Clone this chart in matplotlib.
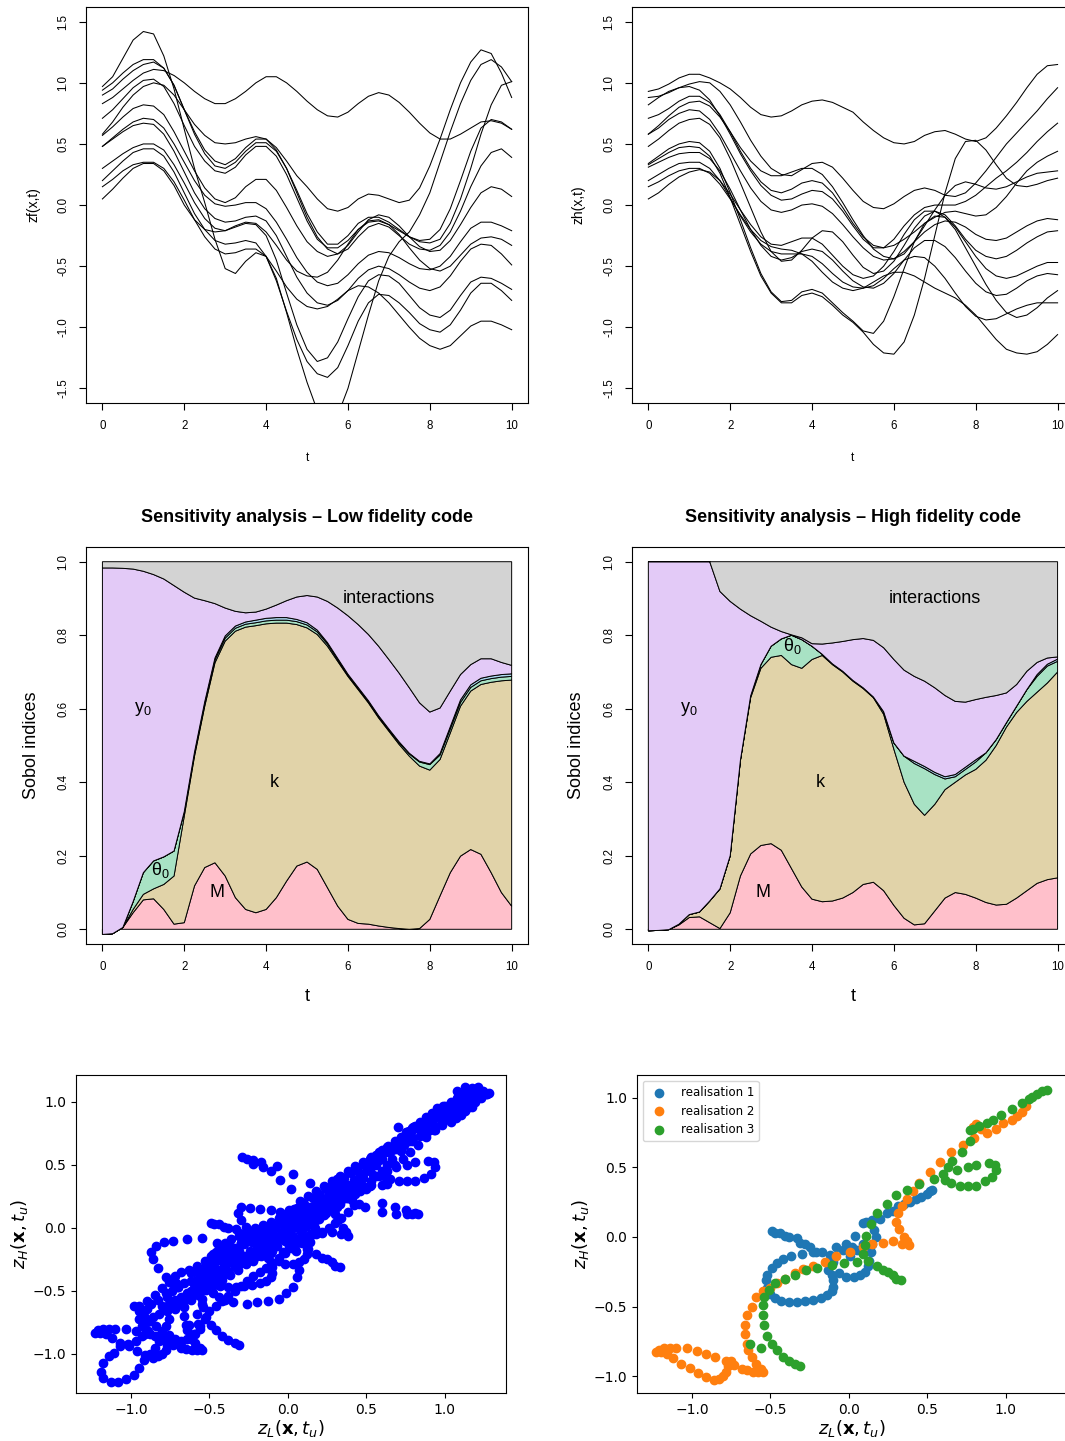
import numpy as np
import matplotlib.pyplot as plt

plt.rcParams['font.family'] = ['Liberation Sans', 'DejaVu Sans']
plt.rcParams['mathtext.fontset'] = 'custom'
plt.rcParams['mathtext.rm'] = 'Liberation Sans'
plt.rcParams['mathtext.it'] = 'Liberation Sans:italic'
plt.rcParams['mathtext.bf'] = 'Liberation Sans:bold'

# ---------------------------------------------------------------- realisations, t = 0, 0.25, ..., 10
t_curve = np.linspace(0, 10, 41)

zf_curves = [
    [0.83, 0.88, 0.95, 1.02, 1.08, 1.11, 1.10, 1.06, 1.00, 0.93, 0.87, 0.83, 0.83, 0.87, 0.93, 1.00, 1.05, 1.05, 1.00, 0.93,
     0.85, 0.78, 0.73, 0.72, 0.76, 0.83, 0.89, 0.92, 0.90, 0.84, 0.76, 0.67, 0.59, 0.54, 0.54, 0.58, 0.63, 0.68, 0.69, 0.67, 0.62],
    [0.97, 1.05, 1.20, 1.35, 1.42, 1.40, 1.22, 0.95, 0.62, 0.30, 0.02, -0.28, -0.52, -0.56, -0.46, -0.39, -0.42, -0.60, -0.88, -1.18,
     -1.45, -1.68, -1.80, -1.72, -1.50, -1.20, -0.90, -0.62, -0.42, -0.30, -0.22, -0.08, 0.10, 0.35, 0.60, 0.83, 1.02, 1.15, 1.19, 1.13, 1.01],
    [0.94, 1.00, 1.08, 1.15, 1.19, 1.19, 1.12, 0.98, 0.78, 0.60, 0.45, 0.36, 0.33, 0.38, 0.47, 0.54, 0.54, 0.47, 0.36, 0.24,
     0.15, 0.05, -0.03, -0.05, -0.02, 0.05, 0.09, 0.08, 0.05, 0.02, 0.04, 0.14, 0.32, 0.54, 0.78, 1.00, 1.17, 1.27, 1.24, 1.08, 0.88],
    [0.90, 0.95, 1.03, 1.10, 1.15, 1.17, 1.12, 0.98, 0.78, 0.58, 0.42, 0.32, 0.30, 0.35, 0.44, 0.51, 0.51, 0.44, 0.30, 0.12,
     -0.07, -0.22, -0.32, -0.32, -0.25, -0.15, -0.10, -0.10, -0.14, -0.20, -0.26, -0.30, -0.31, -0.28, -0.15, 0.05, 0.30, 0.58, 0.82, 0.98, 1.01],
    [0.71, 0.78, 0.87, 0.96, 1.02, 1.03, 0.97, 0.83, 0.65, 0.48, 0.36, 0.28, 0.26, 0.31, 0.41, 0.48, 0.48, 0.40, 0.25, 0.06,
     -0.13, -0.28, -0.35, -0.35, -0.29, -0.20, -0.14, -0.13, -0.16, -0.21, -0.26, -0.29, -0.28, -0.20, -0.03, 0.20, 0.44, 0.63, 0.70, 0.68, 0.62],
    [0.58, 0.68, 0.80, 0.90, 0.97, 1.00, 0.98, 0.90, 0.78, 0.66, 0.57, 0.51, 0.50, 0.51, 0.54, 0.56, 0.54, 0.45, 0.30, 0.10,
     -0.10, -0.26, -0.36, -0.40, -0.36, -0.26, -0.18, -0.15, -0.18, -0.25, -0.32, -0.36, -0.37, -0.33, -0.22, -0.05, 0.15, 0.32, 0.43, 0.46, 0.39],
    [0.57, 0.64, 0.72, 0.79, 0.82, 0.81, 0.74, 0.60, 0.44, 0.28, 0.14, 0.05, 0.02, 0.06, 0.15, 0.21, 0.21, 0.12, -0.02, -0.17,
     -0.30, -0.38, -0.42, -0.40, -0.33, -0.22, -0.12, -0.08, -0.10, -0.17, -0.26, -0.34, -0.38, -0.37, -0.29, -0.16, -0.02, 0.10, 0.15, 0.13, 0.07],
    [0.48, 0.55, 0.62, 0.68, 0.71, 0.70, 0.63, 0.50, 0.35, 0.20, 0.08, 0.01, -0.01, 0.00, 0.02, 0.02, -0.03, -0.14, -0.28, -0.43,
     -0.55, -0.63, -0.66, -0.64, -0.57, -0.48, -0.41, -0.38, -0.39, -0.43, -0.48, -0.52, -0.53, -0.50, -0.42, -0.30, -0.19, -0.14, -0.14, -0.17, -0.21],
    [0.48, 0.54, 0.60, 0.65, 0.67, 0.66, 0.58, 0.44, 0.27, 0.10, -0.03, -0.11, -0.14, -0.13, -0.10, -0.09, -0.13, -0.25, -0.42, -0.59,
     -0.72, -0.80, -0.82, -0.78, -0.70, -0.60, -0.53, -0.50, -0.52, -0.57, -0.63, -0.68, -0.70, -0.67, -0.58, -0.46, -0.36, -0.32, -0.33, -0.40, -0.49],
    [0.30, 0.36, 0.42, 0.47, 0.50, 0.50, 0.45, 0.33, 0.18, 0.02, -0.11, -0.19, -0.21, -0.18, -0.15, -0.16, -0.25, -0.45, -0.72, -0.98,
     -1.18, -1.28, -1.25, -1.12, -0.93, -0.75, -0.62, -0.57, -0.58, -0.64, -0.74, -0.84, -0.90, -0.92, -0.86, -0.74, -0.63, -0.59, -0.60, -0.64, -0.69],
    [0.20, 0.28, 0.36, 0.43, 0.46, 0.46, 0.40, 0.27, 0.10, -0.07, -0.20, -0.29, -0.32, -0.31, -0.29, -0.31, -0.42, -0.62, -0.87, -1.10,
     -1.28, -1.38, -1.41, -1.33, -1.15, -0.95, -0.80, -0.73, -0.74, -0.80, -0.88, -0.97, -1.02, -1.04, -0.98, -0.86, -0.72, -0.64, -0.64, -0.70, -0.78],
    [0.15, 0.21, 0.28, 0.33, 0.35, 0.35, 0.30, 0.19, 0.04, -0.12, -0.26, -0.36, -0.40, -0.39, -0.36, -0.36, -0.42, -0.54, -0.67, -0.77,
     -0.83, -0.85, -0.83, -0.77, -0.70, -0.66, -0.67, -0.72, -0.80, -0.90, -1.00, -1.09, -1.15, -1.18, -1.15, -1.07, -0.99, -0.95, -0.95, -0.98, -1.02],
    [0.05, 0.13, 0.22, 0.30, 0.34, 0.34, 0.28, 0.16, 0.00, -0.12, -0.20, -0.22, -0.21, -0.17, -0.14, -0.15, -0.22, -0.33, -0.45, -0.54,
     -0.58, -0.59, -0.55, -0.45, -0.32, -0.20, -0.13, -0.12, -0.16, -0.24, -0.35, -0.45, -0.52, -0.54, -0.50, -0.41, -0.32, -0.27, -0.26, -0.28, -0.33],
]

zh_curves = [
    [0.93, 0.95, 0.99, 1.04, 1.07, 1.07, 1.04, 1.00, 0.95, 0.88, 0.80, 0.74, 0.72, 0.73, 0.77, 0.82, 0.85, 0.86, 0.84, 0.80,
     0.76, 0.68, 0.61, 0.55, 0.51, 0.50, 0.52, 0.57, 0.60, 0.61, 0.58, 0.54, 0.52, 0.55, 0.63, 0.73, 0.84, 0.96, 1.07, 1.14, 1.15],
    [0.88, 0.89, 0.92, 0.96, 0.99, 1.01, 1.00, 0.93, 0.82, 0.68, 0.53, 0.40, 0.30, 0.25, 0.24, 0.29, 0.34, 0.35, 0.31, 0.22,
     0.12, 0.03, -0.02, -0.03, 0.01, 0.07, 0.12, 0.14, 0.12, 0.08, 0.07, 0.10, 0.18, 0.28, 0.39, 0.50, 0.59, 0.68, 0.77, 0.87, 0.96],
    [0.82, 0.88, 0.93, 0.96, 0.97, 0.94, 0.86, 0.73, 0.58, 0.42, 0.28, 0.16, 0.08, 0.04, 0.05, 0.09, 0.12, 0.11, 0.05, -0.05,
     -0.17, -0.28, -0.35, -0.35, -0.28, -0.17, -0.08, -0.02, 0.00, 0.00, 0.00, 0.03, 0.08, 0.15, 0.22, 0.28, 0.35, 0.43, 0.52, 0.60, 0.67],
    [0.71, 0.74, 0.79, 0.85, 0.89, 0.89, 0.84, 0.74, 0.60, 0.44, 0.30, 0.19, 0.12, 0.10, 0.13, 0.18, 0.20, 0.18, 0.10, -0.02,
     -0.15, -0.26, -0.33, -0.35, -0.33, -0.28, -0.22, -0.15, -0.10, -0.06, -0.05, -0.07, -0.09, -0.08, -0.02, 0.07, 0.18, 0.28, 0.35, 0.40, 0.44],
    [0.58, 0.65, 0.73, 0.80, 0.84, 0.85, 0.81, 0.72, 0.60, 0.47, 0.36, 0.28, 0.24, 0.24, 0.27, 0.30, 0.30, 0.25, 0.15, 0.02,
     -0.12, -0.25, -0.36, -0.42, -0.44, -0.40, -0.30, -0.17, -0.04, 0.08, 0.16, 0.19, 0.17, 0.14, 0.13, 0.15, 0.19, 0.23, 0.26, 0.27, 0.28],
    [0.58, 0.63, 0.70, 0.75, 0.78, 0.77, 0.70, 0.58, 0.43, 0.28, 0.14, 0.03, -0.04, -0.06, -0.04, 0.00, 0.01, -0.01, -0.07, -0.16,
     -0.26, -0.35, -0.42, -0.45, -0.44, -0.38, -0.30, -0.22, -0.16, -0.13, -0.14, -0.18, -0.24, -0.28, -0.29, -0.27, -0.22, -0.17, -0.13, -0.11, -0.12],
    [0.48, 0.54, 0.61, 0.67, 0.70, 0.71, 0.66, 0.55, 0.38, 0.18, -0.02, -0.22, -0.38, -0.46, -0.45, -0.37, -0.27, -0.21, -0.22, -0.30,
     -0.41, -0.51, -0.56, -0.54, -0.46, -0.33, -0.19, -0.09, -0.05, -0.08, -0.17, -0.28, -0.37, -0.42, -0.44, -0.42, -0.37, -0.31, -0.26, -0.22, -0.21],
    [0.34, 0.40, 0.46, 0.50, 0.52, 0.51, 0.44, 0.30, 0.10, -0.12, -0.35, -0.56, -0.71, -0.79, -0.78, -0.71, -0.69, -0.72, -0.80, -0.88,
     -0.95, -1.03, -1.05, -0.95, -0.75, -0.52, -0.30, -0.15, -0.09, -0.10, -0.18, -0.30, -0.42, -0.52, -0.58, -0.60, -0.58, -0.54, -0.50, -0.47, -0.47],
    [0.33, 0.38, 0.43, 0.47, 0.48, 0.47, 0.40, 0.26, 0.06, -0.16, -0.38, -0.58, -0.72, -0.80, -0.80, -0.74, -0.72, -0.75, -0.82, -0.90,
     -0.96, -1.04, -1.14, -1.21, -1.22, -1.12, -0.90, -0.60, -0.25, 0.10, 0.38, 0.52, 0.53, 0.45, 0.33, 0.22, 0.16, 0.15, 0.17, 0.20, 0.22],
    [0.31, 0.35, 0.39, 0.42, 0.43, 0.43, 0.38, 0.28, 0.13, -0.04, -0.20, -0.33, -0.42, -0.45, -0.43, -0.38, -0.36, -0.38, -0.45, -0.54,
     -0.62, -0.67, -0.68, -0.64, -0.56, -0.45, -0.35, -0.29, -0.29, -0.34, -0.43, -0.54, -0.64, -0.71, -0.74, -0.73, -0.68, -0.62, -0.58, -0.56, -0.57],
    [0.20, 0.25, 0.30, 0.34, 0.35, 0.35, 0.30, 0.20, 0.06, -0.09, -0.22, -0.32, -0.38, -0.40, -0.40, -0.40, -0.42, -0.48, -0.56, -0.63,
     -0.67, -0.68, -0.66, -0.60, -0.52, -0.45, -0.42, -0.43, -0.50, -0.60, -0.72, -0.83, -0.91, -0.94, -0.93, -0.89, -0.85, -0.82, -0.80, -0.80, -0.80],
    [0.15, 0.19, 0.24, 0.28, 0.30, 0.30, 0.26, 0.17, 0.05, -0.08, -0.20, -0.29, -0.34, -0.36, -0.37, -0.40, -0.46, -0.55, -0.63, -0.68,
     -0.70, -0.68, -0.63, -0.58, -0.55, -0.55, -0.58, -0.63, -0.68, -0.72, -0.76, -0.82, -0.90, -1.00, -1.10, -1.18, -1.21, -1.22, -1.20, -1.14, -1.06],
    [0.05, 0.10, 0.17, 0.23, 0.27, 0.29, 0.27, 0.20, 0.09, -0.04, -0.16, -0.26, -0.32, -0.33, -0.30, -0.27, -0.27, -0.32, -0.41, -0.50,
     -0.57, -0.60, -0.58, -0.50, -0.38, -0.24, -0.12, -0.05, -0.05, -0.10, -0.20, -0.35, -0.50, -0.65, -0.78, -0.88, -0.92, -0.90, -0.84, -0.76, -0.70],
]

# ---------------------------------------------------------------- sobol indices (cumulative tops)
t_sobol = np.linspace(0, 10, 41)

lf_m_top = [-0.014, -0.012, 0.005, 0.045, 0.080, 0.083, 0.054, 0.014, 0.018, 0.118, 0.168, 0.181, 0.145, 0.086,
            0.054, 0.045, 0.054, 0.086, 0.131, 0.172, 0.183, 0.163, 0.113, 0.063, 0.027, 0.016, 0.014, 0.009,
            0.005, 0.002, 0.000, 0.002, 0.027, 0.091, 0.154, 0.199, 0.217, 0.204, 0.154, 0.100, 0.063]
lf_k_top = [-0.014, -0.012, 0.005, 0.054, 0.095, 0.110, 0.122, 0.145, 0.308, 0.471, 0.607, 0.725, 0.784, 0.811,
            0.822, 0.826, 0.831, 0.833, 0.833, 0.829, 0.820, 0.802, 0.770, 0.729, 0.688, 0.652, 0.616, 0.575,
            0.539, 0.503, 0.471, 0.444, 0.433, 0.462, 0.534, 0.607, 0.648, 0.666, 0.672, 0.676, 0.678]
lf_th_top = [-0.014, -0.012, 0.005, 0.075, 0.154, 0.186, 0.197, 0.213, 0.320, 0.478, 0.614, 0.733, 0.792, 0.819,
             0.830, 0.834, 0.839, 0.841, 0.841, 0.837, 0.828, 0.809, 0.776, 0.734, 0.692, 0.656, 0.620, 0.579,
             0.543, 0.508, 0.477, 0.455, 0.448, 0.474, 0.545, 0.617, 0.658, 0.676, 0.682, 0.686, 0.688]
lf_b_top = [-0.014, -0.012, 0.005, 0.075, 0.154, 0.186, 0.197, 0.213, 0.320, 0.482, 0.619, 0.738, 0.798, 0.825,
            0.836, 0.841, 0.846, 0.848, 0.848, 0.843, 0.834, 0.814, 0.780, 0.737, 0.694, 0.658, 0.622, 0.581,
            0.545, 0.510, 0.479, 0.457, 0.450, 0.478, 0.551, 0.624, 0.665, 0.683, 0.689, 0.693, 0.695]
lf_y0_top = [0.983, 0.983, 0.982, 0.980, 0.974, 0.965, 0.953, 0.935, 0.917, 0.901, 0.894, 0.886, 0.874, 0.865,
             0.861, 0.863, 0.871, 0.882, 0.894, 0.904, 0.908, 0.904, 0.892, 0.874, 0.853, 0.829, 0.802, 0.770,
             0.734, 0.697, 0.657, 0.616, 0.591, 0.602, 0.648, 0.693, 0.720, 0.736, 0.736, 0.726, 0.718]

hf_m_top = [-0.004, -0.003, -0.001, 0.012, 0.032, 0.034, 0.018, 0.002, 0.045, 0.145, 0.205, 0.228, 0.233, 0.215,
            0.165, 0.115, 0.082, 0.075, 0.077, 0.085, 0.100, 0.122, 0.128, 0.105, 0.065, 0.030, 0.012, 0.015,
            0.050, 0.085, 0.100, 0.095, 0.085, 0.073, 0.066, 0.068, 0.085, 0.105, 0.125, 0.135, 0.140]
hf_k_top = [-0.004, -0.003, -0.001, 0.014, 0.040, 0.047, 0.077, 0.110, 0.200, 0.460, 0.630, 0.710, 0.740, 0.745,
            0.720, 0.710, 0.734, 0.745, 0.720, 0.700, 0.675, 0.655, 0.630, 0.585, 0.490, 0.400, 0.340, 0.310,
            0.340, 0.380, 0.400, 0.420, 0.435, 0.460, 0.500, 0.550, 0.590, 0.620, 0.645, 0.670, 0.700]
hf_th_top = [-0.004, -0.003, -0.001, 0.014, 0.040, 0.047, 0.077, 0.110, 0.200, 0.460, 0.635, 0.720, 0.770, 0.790,
             0.800, 0.788, 0.770, 0.748, 0.722, 0.702, 0.677, 0.657, 0.632, 0.592, 0.507, 0.471, 0.451, 0.437,
             0.421, 0.409, 0.415, 0.435, 0.455, 0.480, 0.516, 0.562, 0.607, 0.652, 0.688, 0.716, 0.729]
hf_b_top = [-0.004, -0.003, -0.001, 0.014, 0.040, 0.047, 0.077, 0.110, 0.200, 0.460, 0.635, 0.720, 0.770, 0.790,
            0.800, 0.788, 0.770, 0.748, 0.722, 0.702, 0.677, 0.657, 0.632, 0.592, 0.507, 0.471, 0.457, 0.443,
            0.427, 0.415, 0.421, 0.441, 0.461, 0.480, 0.516, 0.562, 0.607, 0.652, 0.693, 0.721, 0.735]
hf_y0_top = [1.0, 1.0, 1.0, 1.0, 1.0, 1.0, 1.0, 0.919, 0.892, 0.871, 0.853, 0.838, 0.822, 0.810,
             0.801, 0.793, 0.777, 0.776, 0.779, 0.783, 0.788, 0.791, 0.786, 0.766, 0.734, 0.705, 0.688, 0.675,
             0.657, 0.636, 0.620, 0.618, 0.625, 0.631, 0.636, 0.643, 0.666, 0.702, 0.726, 0.738, 0.741]

layer_colors = ['#FFC0CB', '#E1D3A9', '#A8E2C4', '#ADD8EE', '#E3CAF7']
interaction_color = '#D3D3D3'

# ---------------------------------------------------------------- (z_L, z_H) pairs
real_1 = np.array([
    (-0.49, 0.04), (-0.47, 0.03), (-0.44, 0.03), (-0.41, 0.01), (-0.38, 0.00), (-0.33, -0.01), (-0.31, -0.04),
    (-0.28, -0.05), (-0.25, -0.07), (-0.23, -0.11), (-0.21, -0.11), (-0.17, -0.11), (-0.12, -0.13), (-0.08, -0.07),
    (-0.02, -0.05), (0.02, -0.07), (0.05, -0.09), (-0.30, -0.12), (-0.37, -0.14), (-0.42, -0.16), (-0.46, -0.19),
    (-0.49, -0.22), (-0.52, -0.27), (-0.53, -0.31), (-0.52, -0.37), (-0.50, -0.41), (-0.47, -0.44), (-0.43, -0.46),
    (-0.38, -0.47), (-0.33, -0.47), (-0.28, -0.46), (-0.23, -0.45), (-0.18, -0.44), (-0.14, -0.42), (-0.11, -0.39),
    (-0.10, -0.36), (-0.10, -0.31), (-0.11, -0.27), (-0.13, -0.24), (-0.12, -0.20), (-0.10, -0.18), (-0.06, -0.26),
    (-0.02, -0.29), (0.03, -0.29), (0.07, -0.27), (0.10, -0.25), (0.12, -0.21), (0.13, -0.17), (0.14, -0.11),
    (0.15, -0.05), (0.17, 0.00), (0.16, 0.05), (0.09, 0.10), (0.11, 0.11), (0.15, 0.12), (0.20, 0.13),
    (0.24, 0.17), (0.28, 0.19), (0.31, 0.22), (0.35, 0.24), (0.39, 0.25), (0.43, 0.27), (0.46, 0.29),
    (0.50, 0.31), (0.52, 0.33), (0.53, 0.34), (0.04, 0.01), (-0.04, -0.09), (0.01, -0.14), (0.09, -0.05),
])
real_2 = np.array([
    (1.13, 0.94), (1.10, 0.90), (1.07, 0.87), (1.04, 0.84), (0.98, 0.82), (0.94, 0.78), (0.88, 0.75),
    (0.81, 0.81), (0.79, 0.79), (0.84, 0.78), (0.80, 0.71), (0.73, 0.66), (0.65, 0.61), (0.58, 0.54),
    (0.52, 0.47), (0.45, 0.39), (0.41, 0.33), (0.37, 0.27), (0.34, 0.22), (0.31, 0.17), (0.30, 0.11),
    (0.32, 0.06), (0.35, 0.00), (0.37, -0.03), (0.38, -0.06), (0.34, -0.05), (0.28, -0.03), (0.22, -0.04),
    (0.15, -0.05), (0.09, -0.07), (0.01, -0.11), (-0.08, -0.14), (-0.15, -0.18), (-0.23, -0.21), (-0.29, -0.23),
    (-0.34, -0.26), (-0.41, -0.30), (-0.46, -0.33), (-0.50, -0.37), (-0.55, -0.39), (-0.59, -0.43), (-0.62, -0.50),
    (-0.65, -0.56), (-0.66, -0.63), (-0.66, -0.70), (-0.65, -0.77), (-0.64, -0.81), (-0.62, -0.86), (-0.59, -0.91),
    (-0.56, -0.95), (-0.55, -0.97), (-0.58, -0.97), (-0.61, -0.97), (-0.65, -0.96), (-0.68, -0.95), (-0.73, -0.92),
    (-0.75, -0.89), (-0.78, -0.89), (-0.77, -0.93), (-0.78, -0.97), (-0.80, -1.00), (-0.83, -1.02), (-0.86, -1.03),
    (-0.91, -1.01), (-0.96, -0.98), (-1.01, -0.94), (-1.07, -0.91), (-1.12, -0.87), (-1.16, -0.84), (-1.20, -0.83),
    (-1.23, -0.83), (-1.21, -0.81), (-1.18, -0.80), (-1.14, -0.80), (-1.10, -0.80), (-1.03, -0.80), (-0.97, -0.82),
    (-0.91, -0.84), (-0.85, -0.86),
])
real_3 = np.array([
    (1.26, 1.06), (1.23, 1.05), (1.20, 1.03), (1.17, 1.01), (1.15, 0.99), (1.10, 0.96), (1.04, 0.92),
    (0.97, 0.88), (0.92, 0.84), (0.88, 0.82), (0.83, 0.80), (0.79, 0.78), (0.77, 0.77), (0.77, 0.69),
    (0.72, 0.61), (0.66, 0.55), (0.63, 0.50), (0.60, 0.45), (0.61, 0.41), (0.65, 0.39), (0.71, 0.37),
    (0.76, 0.37), (0.81, 0.37), (0.87, 0.40), (0.91, 0.43), (0.94, 0.48), (0.93, 0.52), (0.89, 0.53),
    (0.81, 0.52), (0.76, 0.50), (0.69, 0.48), (0.54, 0.42), (0.45, 0.38), (0.37, 0.34), (0.30, 0.30),
    (0.24, 0.24), (0.18, 0.17), (0.14, 0.09), (0.11, 0.01), (0.10, -0.06), (0.09, -0.12), (0.12, -0.17),
    (0.18, -0.21), (0.22, -0.24), (0.25, -0.25), (0.28, -0.27), (0.30, -0.30), (0.33, -0.31), (0.05, -0.18),
    (-0.03, -0.19), (-0.11, -0.20), (-0.20, -0.22), (-0.27, -0.24), (-0.34, -0.27), (-0.41, -0.30), (-0.47, -0.33),
    (-0.51, -0.38), (-0.54, -0.43), (-0.55, -0.49), (-0.55, -0.56), (-0.54, -0.63), (-0.52, -0.71), (-0.49, -0.77),
    (-0.46, -0.81), (-0.42, -0.86), (-0.38, -0.89), (-0.34, -0.91), (-0.31, -0.93), (-0.63, -0.77), (-0.56, -0.80),
])
other_1 = np.array([
    (-0.29, 0.56), (-0.26, 0.55), (-0.22, 0.54), (-0.22, 0.51), (-0.17, 0.52), (-0.16, 0.48), (-0.11, 0.45),
    (-0.07, 0.49), (-0.05, 0.38), (0.03, 0.43), (0.02, 0.31), (0.08, 0.21), (0.14, 0.36), (0.16, 0.24),
    (0.20, 0.27), (0.24, 0.31), (0.28, 0.34), (0.32, 0.37), (0.36, 0.40), (0.40, 0.44), (0.44, 0.47),
    (0.48, 0.51), (0.52, 0.55), (0.56, 0.58), (0.60, 0.62), (0.64, 0.65), (0.68, 0.69), (0.72, 0.72),
    (0.76, 0.76), (0.80, 0.80), (0.84, 0.84), (0.88, 0.88), (0.92, 0.91), (0.96, 0.94), (1.00, 0.97),
    (1.04, 1.00), (1.08, 1.03), (1.12, 1.06), (1.15, 1.09), (1.17, 1.11), (1.13, 1.12), (1.08, 1.09),
])
other_2 = np.array([
    (0.49, 0.17), (0.60, 0.20), (0.60, 0.13), (0.68, 0.17), (0.69, 0.11), (0.75, 0.14), (0.76, 0.11),
    (0.79, 0.11), (0.83, 0.11), (0.81, 0.12), (0.45, 0.19), (0.41, 0.22), (0.37, 0.24),
])
other_3 = np.array([
    (-0.30, 0.17), (-0.24, 0.16), (-0.18, 0.15), (-0.11, 0.14), (-0.05, 0.13), (-0.32, 0.12), (-0.30, 0.06),
    (-0.27, 0.01), (-0.24, -0.04), (0.01, 0.14), (0.06, 0.16), (0.10, 0.19),
])
other_4 = np.array([
    (-0.87, -0.19), (-0.86, -0.25), (-0.83, -0.32), (-0.78, -0.39), (-0.84, -0.14), (-0.79, -0.11), (-0.73, -0.10),
    (-0.64, -0.09), (-0.55, -0.08), (-0.45, -0.12), (-0.39, -0.16), (-0.35, -0.19), (-0.31, -0.22), (-0.74, -0.44),
    (-0.70, -0.47),
])
other_5 = np.array([
    (-0.35, -0.59), (-0.26, -0.60), (-0.20, -0.59), (-0.13, -0.58), (-0.06, -0.56), (-0.01, -0.52), (0.03, -0.47),
    (0.06, -0.39), (0.07, -0.33), (-0.40, -0.57), (-0.44, -0.55), (-0.48, -0.52),
])
other_6 = np.array([
    (-1.18, -1.07), (-1.19, -1.14), (-1.18, -1.19), (-1.13, -1.22), (-1.08, -1.22), (-1.03, -1.20), (-0.98, -1.17),
    (-0.95, -1.11), (-0.92, -1.05), (-1.14, -1.02), (-1.11, -0.99), (-1.07, -0.94), (-1.02, -0.92), (-0.97, -0.90),
    (-0.93, -0.86), (-0.89, -0.82), (-0.88, -1.00), (-0.85, -0.95), (-0.82, -0.90), (-0.80, -0.84), (-0.78, -0.78),
    (-0.76, -0.72),
])
other_7 = np.array([
    (-0.95, -0.72), (-0.93, -0.66), (-0.90, -0.64), (-0.87, -0.60), (-0.83, -0.57), (-0.77, -0.55), (-0.71, -0.44),
    (-0.93, -0.78), (-0.88, -0.84), (-0.83, -0.86), (-0.77, -0.90), (-0.73, -0.93), (-0.68, -0.94), (-0.62, -0.88),
    (-0.59, -0.84), (-0.57, -0.76), (-0.58, -0.68), (-0.55, -0.60),
])
other_8 = np.array([
    (-0.95, -0.62), (-0.90, -0.58), (-0.85, -0.53), (-0.80, -0.48), (-0.76, -0.43), (-0.72, -0.38), (-0.68, -0.35),
    (-0.63, -0.33), (-0.58, -0.30), (-0.53, -0.26), (-0.48, -0.21), (-0.44, -0.16), (-0.40, -0.12), (-0.36, -0.09),
    (-0.31, -0.06), (-0.26, -0.03), (-0.21, 0.00), (-0.16, 0.02), (-0.11, 0.05), (-0.06, 0.08), (-0.01, 0.11),
    (0.04, 0.15), (0.09, 0.20), (0.13, 0.25), (0.18, 0.29), (0.23, 0.33), (0.28, 0.37), (0.33, 0.41),
    (0.38, 0.45), (0.43, 0.49), (0.48, 0.52), (0.53, 0.56), (0.58, 0.60), (0.63, 0.64), (0.68, 0.67),
    (0.73, 0.71), (0.78, 0.75), (0.83, 0.79), (0.88, 0.83), (0.93, 0.87), (0.98, 0.91), (1.03, 0.95),
    (1.08, 0.98), (1.13, 1.02), (1.18, 1.05), (1.22, 1.08), (1.19, 1.10), (1.16, 1.07),
])
other_9 = np.array([
    (-0.90, -0.75), (-0.86, -0.71), (-0.82, -0.68), (-0.77, -0.66), (-0.72, -0.64), (-0.67, -0.61), (-0.62, -0.57),
    (-0.57, -0.53), (-0.52, -0.49), (-0.47, -0.45), (-0.42, -0.41), (-0.37, -0.37), (-0.32, -0.33), (-0.27, -0.29),
    (-0.22, -0.26), (-0.17, -0.22), (-0.12, -0.18), (-0.07, -0.14), (-0.02, -0.10), (0.03, -0.06), (0.08, -0.02),
    (0.13, 0.02), (0.18, 0.06), (0.23, 0.10), (0.28, 0.14), (0.33, 0.19), (0.38, 0.24), (0.43, 0.29),
    (0.48, 0.33), (0.53, 0.37), (0.58, 0.41), (0.63, 0.45), (0.68, 0.50), (0.73, 0.55), (0.78, 0.60),
    (0.83, 0.66), (0.88, 0.72), (0.93, 0.78), (0.98, 0.83), (1.03, 0.87), (1.08, 0.90), (1.13, 0.93),
    (1.17, 0.96),
])
other_10 = np.array([
    (-0.78, -0.52), (-0.74, -0.50), (-0.70, -0.47), (-0.66, -0.44), (-0.62, -0.42), (-0.58, -0.41), (-0.54, -0.38),
    (-0.50, -0.33), (-0.47, -0.28), (-0.43, -0.25), (-0.39, -0.24), (-0.35, -0.22), (-0.31, -0.18), (-0.28, -0.13),
    (-0.24, -0.10), (-0.20, -0.08), (-0.16, -0.06), (-0.12, -0.03), (-0.08, 0.00), (-0.04, 0.03), (0.00, 0.05),
    (0.04, 0.06), (0.08, 0.04), (0.12, 0.02), (0.16, 0.03), (0.20, 0.07), (0.24, 0.12), (0.28, 0.17),
    (0.32, 0.22), (0.36, 0.27), (0.40, 0.31), (0.44, 0.35), (0.48, 0.40), (0.52, 0.45), (0.56, 0.50),
    (0.60, 0.55), (0.64, 0.60), (0.69, 0.63), (0.74, 0.66), (0.79, 0.69), (0.84, 0.73), (0.89, 0.77),
    (0.94, 0.81), (0.99, 0.85), (1.04, 0.89), (1.09, 0.92), (1.14, 0.95), (1.19, 1.00), (1.23, 1.03),
    (1.27, 1.06),
])
other_11 = np.array([
    (-0.98, -0.62), (-0.95, -0.66), (-0.92, -0.70), (-0.88, -0.74), (-0.84, -0.78), (-0.80, -0.82), (-0.76, -0.85),
    (-0.72, -0.88), (-0.68, -0.90), (-0.64, -0.88), (-0.60, -0.84), (-0.56, -0.78), (-0.53, -0.72), (-0.50, -0.66),
    (-0.46, -0.62), (-0.42, -0.58), (-0.38, -0.54), (-0.34, -0.50), (-0.30, -0.46), (-0.26, -0.42), (-0.22, -0.38),
    (-0.18, -0.35), (-0.14, -0.32), (-0.10, -0.28), (-0.06, -0.24), (-0.02, -0.20), (0.02, -0.16), (0.06, -0.12),
    (0.10, -0.08), (0.14, -0.06), (0.18, -0.05), (0.22, -0.03), (0.26, 0.00), (0.30, 0.04), (0.34, 0.08),
    (0.38, 0.13), (0.42, 0.18),
])
other_12 = np.array([
    (0.70, 0.80), (0.75, 0.76), (0.95, 0.95), (0.99, 0.97), (1.09, 0.98), (1.12, 1.00), (1.05, 0.93),
    (1.00, 0.90), (1.21, 1.12), (1.24, 1.09), (1.28, 1.07), (0.31, 0.39), (0.48, 0.43), (0.56, 0.41),
    (0.60, 0.34), (0.63, 0.35),
])
other_13 = np.array([
    (-0.70, -0.60), (-0.66, -0.57), (-0.62, -0.54), (-0.58, -0.50), (-0.54, -0.47), (-0.50, -0.45), (-0.46, -0.42),
    (-0.42, -0.38), (-0.38, -0.34), (-0.34, -0.31), (-0.30, -0.28), (-0.26, -0.24), (-0.22, -0.20), (-0.18, -0.17),
    (-0.14, -0.14), (-0.10, -0.11), (-0.06, -0.07), (-0.02, -0.04), (0.02, -0.01), (0.06, 0.03), (0.10, 0.07),
    (0.14, 0.10), (0.18, 0.14), (0.22, 0.18), (0.26, 0.22), (0.30, 0.26), (0.34, 0.30), (0.38, 0.34),
    (0.42, 0.38), (0.46, 0.43), (0.50, 0.48), (0.54, 0.52), (0.58, 0.56), (0.62, 0.60), (0.66, 0.62),
])
other_14 = np.array([
    (-0.62, -0.36), (-0.58, -0.35), (-0.54, -0.33), (-0.50, -0.30), (-0.46, -0.26), (-0.42, -0.22), (-0.38, -0.20),
    (-0.34, -0.16), (-0.30, -0.12), (-0.26, -0.08), (-0.22, -0.05), (-0.18, -0.03), (-0.14, -0.01), (-0.10, 0.02),
    (-0.06, 0.04), (-0.02, 0.07), (0.02, 0.09), (0.06, 0.11), (0.10, 0.14), (0.14, 0.17), (0.18, 0.20),
    (0.22, 0.23), (0.26, 0.27), (0.30, 0.32), (0.34, 0.36),
])
other_15 = np.array([
    (-0.80, -0.62), (-0.76, -0.60), (-0.72, -0.57), (-0.68, -0.55), (-0.64, -0.52), (-0.60, -0.48), (-0.56, -0.45),
    (-0.52, -0.43), (-0.48, -0.38), (-0.44, -0.33), (-0.40, -0.29), (-0.36, -0.27), (-0.32, -0.25), (-0.28, -0.22),
    (-0.24, -0.18), (-0.20, -0.15), (-0.16, -0.12), (-0.12, -0.09), (-0.08, -0.06), (-0.04, -0.03), (0.00, -0.01),
    (0.04, 0.02), (0.08, 0.06), (0.12, 0.08), (0.16, 0.10), (0.20, 0.14), (0.24, 0.20), (0.28, 0.24),
])

# ---------------------------------------------------------------- figure
fig = plt.figure(figsize=(10.65, 14.41), dpi=100)

ax_tl = fig.add_axes([0.0808, 0.7203, 0.4150, 0.2748])
ax_tr = fig.add_axes([0.5934, 0.7203, 0.4150, 0.2748])
ax_ml = fig.add_axes([0.0808, 0.3449, 0.4150, 0.2755])
ax_mr = fig.add_axes([0.5934, 0.3449, 0.4150, 0.2755])
ax_bl = fig.add_axes([0.0714, 0.0333, 0.4038, 0.2207])
ax_br = fig.add_axes([0.5981, 0.0333, 0.4038, 0.2207])


def r_frame(ax, yticks, ylabels):
    for sp in ax.spines.values():
        sp.set_linewidth(0.8)
    ax.set_xlim(-0.4, 10.4)
    ax.set_xticks([0, 2, 4, 6, 8, 10])
    ax.set_yticks(yticks)
    ax.set_yticklabels(ylabels, rotation=90, va='center')
    ax.tick_params(direction='out', length=5, width=0.8, labelsize=8.3)
    ax.tick_params(axis='x', pad=7)
    ax.tick_params(axis='y', pad=7)


# realisations of the two codes
for ax, curves, ylab in [(ax_tl, zf_curves, 'zf(x,t)'), (ax_tr, zh_curves, 'zh(x,t)')]:
    for c in curves:
        ax.plot(t_curve, c, color='black', lw=0.75)
    ax.set_ylim(-1.62, 1.62)
    r_frame(ax, [-1.5, -1.0, -0.5, 0.0, 0.5, 1.0, 1.5],
            ['-1.5', '-1.0', '-0.5', '0.0', '0.5', '1.0', '1.5'])
    ax.text(0.5, -55 / 396, 't', transform=ax.transAxes, ha='center', va='center', fontsize=8.5)
    ax.text(-53 / 442, 0.5, ylab, transform=ax.transAxes, ha='center', va='center',
            rotation=90, fontsize=10)


# stacked sobol indices
def sobol_panel(ax, tops, title, th_pos):
    lower = np.zeros_like(t_sobol)
    xs = np.concatenate([t_sobol, t_sobol[::-1]])
    for top, col in zip(tops, layer_colors):
        top = np.asarray(top)
        ax.fill(xs, np.concatenate([top, lower[::-1]]), facecolor=col, edgecolor='black', lw=0.7)
        lower = top
    ax.fill(xs, np.concatenate([np.ones_like(t_sobol), lower[::-1]]),
            facecolor=interaction_color, edgecolor='black', lw=0.7)
    ax.set_ylim(-0.04, 1.04)
    r_frame(ax, [0.0, 0.2, 0.4, 0.6, 0.8, 1.0], ['0.0', '0.2', '0.4', '0.6', '0.8', '1.0'])
    ax.text(7.0, 0.90, 'interactions', ha='center', va='center', fontsize=13)
    ax.text(1.0, 0.60, r'$\mathrm{y}_{\mathrm{0}}$', ha='center', va='center', fontsize=13)
    ax.text(th_pos[0], th_pos[1], r'$\mathrm{\theta}_{\mathrm{0}}$', ha='center', va='center', fontsize=13)
    ax.text(4.2, 0.40, 'k', ha='center', va='center', fontsize=13)
    ax.text(2.8, 0.10, 'M', ha='center', va='center', fontsize=13)
    ax.text(0.5, 1 + 30 / 397, title, transform=ax.transAxes, ha='center', va='center',
            fontsize=13, fontweight='bold')
    ax.text(0.5, -53 / 397, 't', transform=ax.transAxes, ha='center', va='center', fontsize=13)
    ax.text(-55 / 442, 0.5, 'Sobol indices', transform=ax.transAxes, ha='center', va='center',
            rotation=90, fontsize=13)


sobol_panel(ax_ml, [lf_m_top, lf_k_top, lf_th_top, lf_b_top, lf_y0_top],
            'Sensitivity analysis \u2013 Low fidelity code', (1.41, 0.16))
sobol_panel(ax_mr, [hf_m_top, hf_k_top, hf_th_top, hf_b_top, hf_y0_top],
            'Sensitivity analysis \u2013 High fidelity code', (3.51, 0.77))

# z_H against z_L
all_pairs = np.vstack([real_1, real_2, real_3, other_1, other_2, other_3, other_4, other_5, other_6,
                       other_7, other_8, other_9, other_10, other_11, other_12, other_13, other_14, other_15])
ax_bl.scatter(all_pairs[:, 0], all_pairs[:, 1], color='blue', s=36)
ax_bl.set_xlim(-1.35, 1.39)
ax_bl.set_ylim(-1.31, 1.214)

for pts, lab in [(real_1, 'realisation 1'), (real_2, 'realisation 2'), (real_3, 'realisation 3')]:
    ax_br.scatter(pts[:, 0], pts[:, 1], s=36, label=lab)
ax_br.set_xlim(-1.35, 1.39)
ax_br.set_ylim(-1.122, 1.165)
ax_br.legend(loc='upper left', fontsize=8.5)

for ax in (ax_bl, ax_br):
    ax.set_xticks([-1.0, -0.5, 0.0, 0.5, 1.0])
    ax.set_yticks([-1.0, -0.5, 0.0, 0.5, 1.0])
    ax.tick_params(labelsize=10)
    for lab in ax.get_xticklabels() + ax.get_yticklabels():
        lab.set_fontfamily('DejaVu Sans')
    ax.set_xlabel(r'$z_L(\mathbf{x}, t_u)$', fontsize=13, math_fontfamily='dejavusans', labelpad=1)
    ax.set_ylabel(r'$z_H(\mathbf{x}, t_u)$', fontsize=13, math_fontfamily='dejavusans', labelpad=2)
for txt in ax_br.get_legend().get_texts():
    txt.set_fontfamily('DejaVu Sans')

fig.savefig('out.png', dpi=100)
